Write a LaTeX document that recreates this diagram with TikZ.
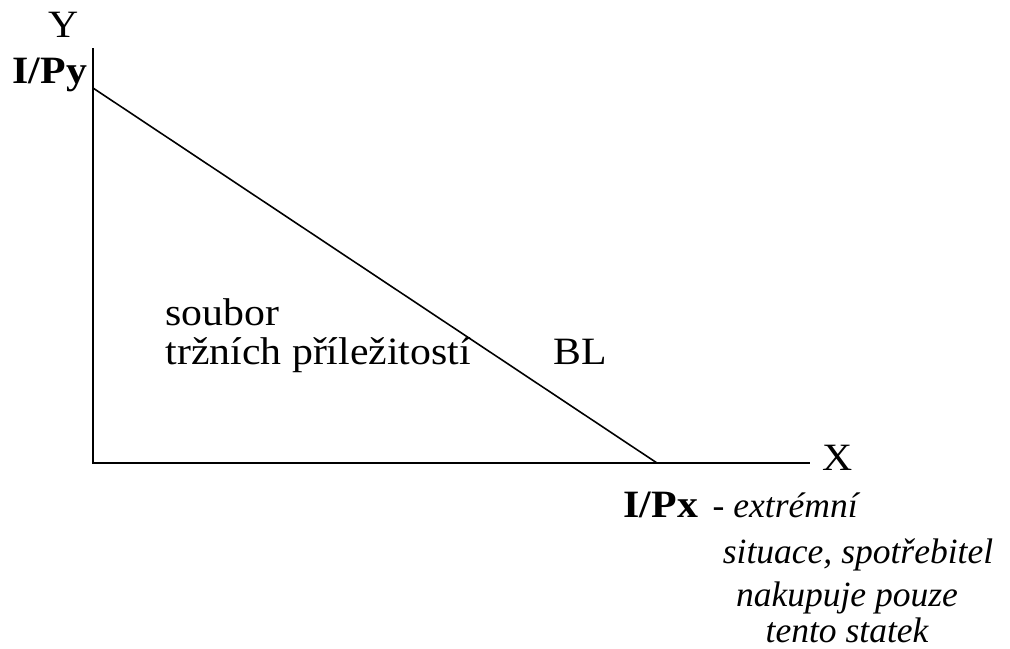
\documentclass[tikz,border=0pt]{standalone}
\usepackage{fontspec}
\setmainfont{Liberation Serif}
\newfontfamily\lblfont[FakeStretch=1.08]{Liberation Serif}
\usetikzlibrary{positioning}

\tikzset{
  axis/.style={line width=0.6pt},
  lbl/.style={inner sep=0pt, anchor=base west, font=\fontsize{11}{13}\lblfont},
  note/.style={inner sep=0pt, anchor=base, font=\fontsize{10.1}{12}\selectfont\itshape}
}

\begin{document}
\begin{tikzpicture}[x=0.01cm,y=-0.01cm]
  \useasboundingbox (0,0) rectangle (1010,648);
  % axes
  \coordinate (O) at (93,463);
  \coordinate (ytop) at (93,48);
  \coordinate (xend) at (810,463);
  \coordinate (A) at (93,88);
  \coordinate (B) at (657,463);
  \draw[axis] (ytop) -- (O) -- (xend);
  % budget line
  \draw[line width=0.45pt] (A) -- (B);
  % labels
  \node[lbl] (ylab) at (48,37) {Y};
  \node[lbl] (py) at (12,83) {\bfseries I/Py};
  \node[lbl] (xlab) at (822,470) {X};
  \node[lbl] (px) at (623,517) {\bfseries I/Px};
  \node[lbl] (set1) at (165,325) {soubor};
  \node[lbl] (set2) at (165,364) {tržních příležitostí};
  \node[lbl] (bl) at (553,364) {BL};
  % note below I/Px
  \node[note, anchor=base west] (n1) at (712,517) {- extrémní};
  \node[note] (n2) at (858,563) {situace, spotřebitel};
  \node[note] (n3) at (847,606) {nakupuje pouze};
  \node[note] (n4) at (847,642) {tento statek};
\end{tikzpicture}
\end{document}
